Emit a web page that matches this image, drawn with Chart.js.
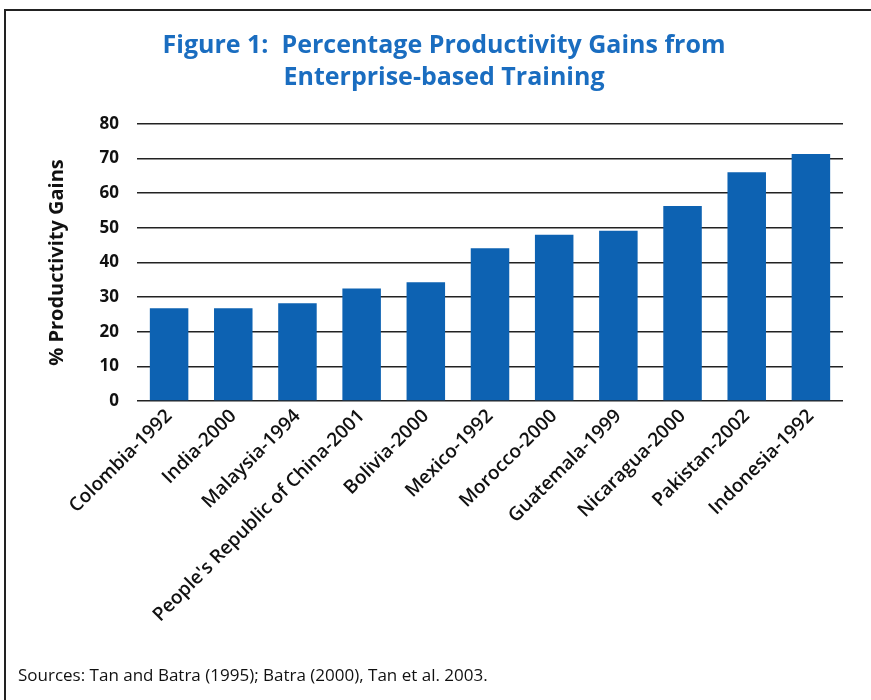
<!DOCTYPE html>
<html>
<head>
<meta charset="utf-8">
<script src="https://cdn.jsdelivr.net/npm/chart.js@4/dist/chart.umd.min.js"></script>
<style>
html,body{margin:0;padding:0;background:#fff;}
#wrap{width:871px;height:700px;position:relative;}
</style>
</head>
<body>
<div id="wrap"><canvas id="c" width="871" height="700"></canvas></div>
<script>
const categories = ["Colombia-1992","India-2000","Malaysia-1994","People's Republic of China-2001","Bolivia-2000","Mexico-1992","Morocco-2000","Guatemala-1999","Nicaragua-2000","Pakistan-2002","Indonesia-1992"];
const gains = [26.8, 26.8, 28.2, 32.5, 34.3, 44.1, 48.0, 49.2, 56.3, 66.1, 71.3];
const titleLines = ["Figure 1:  Percentage Productivity Gains from", "Enterprise-based Training"];
const yAxisTitle = "% Productivity Gains";
const sourceText = "Sources: Tan and Batra (1995); Batra (2000), Tan et al. 2003.";

const framePlugin = {
  id: 'frame',
  afterDraw(chart) {
    const ctx = chart.ctx;
    ctx.save();
    ctx.strokeStyle = '#222';
    ctx.lineWidth = 2;
    ctx.beginPath();
    ctx.moveTo(5, 700);
    ctx.lineTo(5, 10);
    ctx.lineTo(871, 10);
    ctx.stroke();
    ctx.fillStyle = '#111';
    ctx.font = '17px "Open Sans", sans-serif';
    ctx.textBaseline = 'middle';
    ctx.fillText(sourceText, 18, 676);
    ctx.restore();
  }
};

new Chart(document.getElementById('c'), {
  type: 'bar',
  data: {
    labels: categories,
    datasets: [{
      data: gains,
      backgroundColor: '#0d62b2',
      borderWidth: 0,
      barPercentage: 0.6,
      categoryPercentage: 1.0
    }]
  },
  options: {
    responsive: false,
    animation: false,
    layout: { padding: { left: 45, right: 28, top: 1, bottom: 50 } },
    plugins: {
      legend: { display: false },
      tooltip: { enabled: false },
      title: {
        display: true,
        text: titleLines,
        color: '#1a6dc0',
        font: { family: '"Open Sans"', size: 25, weight: 'bold', lineHeight: 1.28 },
        padding: { top: 29, bottom: 30 }
      }
    },
    scales: {
      x: {
        grid: { display: false, drawTicks: false },
        border: { display: false },
        ticks: {
          minRotation: 45, maxRotation: 45,
          color: '#111',
          font: { family: '"Open Sans"', size: 19, weight: '600' },
          padding: 4
        },
        afterFit(scale) { scale.height = 249; }
      },
      y: {
        min: 0, max: 80,
        ticks: {
          stepSize: 10,
          color: '#111',
          font: { family: '"Open Sans"', size: 17, weight: 'bold' },
          padding: 18
        },
        grid: { color: '#222', lineWidth: 1.6, drawTicks: false },
        border: { display: false },
        title: {
          display: true,
          text: yAxisTitle,
          color: '#111',
          font: { family: '"Open Sans"', size: 20, weight: 'bold' },
          padding: { top: 0, bottom: 2 }
        },
        afterFit(scale) { scale.width = 92; }
      }
    }
  },
  plugins: [framePlugin]
});
</script>
</body>
</html>
